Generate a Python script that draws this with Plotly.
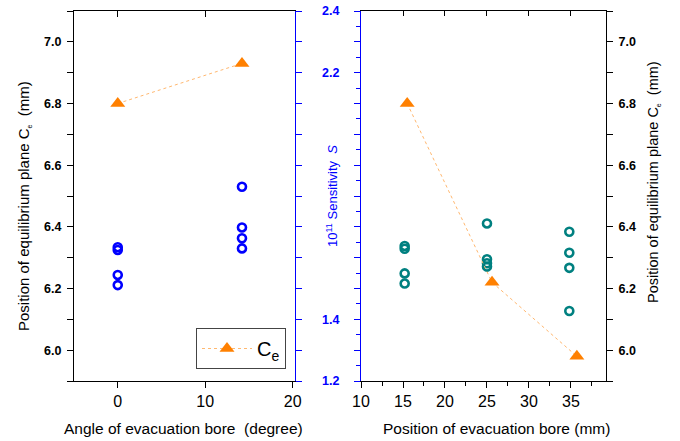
import plotly.graph_objects as go

# ---------------- data ----------------
angle_ce_x = [0, 14.2]
angle_ce_y = [6.80, 6.93]

angle_s_x = [0, 0, 0, 0, 14.2, 14.2, 14.2, 14.2]
angle_s_y = [1.634, 1.625, 1.544, 1.511, 1.830, 1.698, 1.663, 1.630]

pos_ce_x = [15.5, 25.6, 35.7]
pos_ce_y = [6.80, 6.22, 5.98]

pos_s_x = [15.2, 15.2, 15.2, 15.2, 25.0, 25.0, 25.0, 25.0, 34.8, 34.8, 34.8, 34.8]
pos_s_y = [1.638, 1.629, 1.549, 1.516, 1.711, 1.595, 1.582, 1.571, 1.684, 1.616, 1.567, 1.427]

ce_ticks = [6.0, 6.2, 6.4, 6.6, 6.8, 7.0]
ce_ticktext = ["6.0", "6.2", "6.4", "6.6", "6.8", "7.0"]
s_label_ticks = [1.2, 1.4, 2.2, 2.4]
s_label_text = ["1.2", "1.4", "2.2", "2.4"]
s_ticks = [1.2, 1.3, 1.4, 1.5, 1.6, 1.7, 1.8, 1.9, 2.0, 2.1, 2.2, 2.3, 2.4]
angle_ticks = [0, 10, 20]
pos_ticks = [10, 15, 20, 25, 30, 35]

FONT = "Arial, Liberation Sans, sans-serif"
ORANGE = "#FF8000"
DOTLINE = "#FFB870"
BLUE = "#0000FF"
TEAL = "#008080"

W, H = 680, 441


def px(x):
    return x / W


def py(y):
    return (H - y) / H


xl = [px(74), px(295)]
xr = [px(361), px(606)]
yd = [py(381), py(11)]

fig = go.Figure()

fig.add_trace(go.Scatter(
    x=angle_ce_x, y=angle_ce_y, xaxis="x", yaxis="y", mode="lines+markers",
    name="C<sub>e</sub>", showlegend=True,
    line=dict(color=DOTLINE, dash="dot", width=1),
    marker=dict(symbol="triangle-up", size=13, color=ORANGE)))

fig.add_trace(go.Scatter(
    x=angle_s_x, y=angle_s_y, xaxis="x", yaxis="y3", mode="markers", showlegend=False,
    marker=dict(symbol="circle-open", size=8, color=BLUE, line=dict(width=2.6, color=BLUE))))

fig.add_trace(go.Scatter(
    x=pos_s_x, y=pos_s_y, xaxis="x2", yaxis="y2", mode="markers", showlegend=False,
    marker=dict(symbol="circle-open", size=8, color=TEAL, line=dict(width=2.6, color=TEAL))))

fig.add_trace(go.Scatter(
    x=pos_ce_x, y=pos_ce_y, xaxis="x2", yaxis="y4", mode="lines+markers", showlegend=False,
    line=dict(color=DOTLINE, dash="dot", width=1),
    marker=dict(symbol="triangle-up", size=13, color=ORANGE)))

# empty helper traces so that the overlay (tick-only) axes get drawn
for xa, ya in [("x3", "y"), ("x4", "y2"), ("x2", "y5")]:
    fig.add_trace(go.Scatter(x=[], y=[], xaxis=xa, yaxis=ya, mode="markers",
                             showlegend=False, hoverinfo="skip"))

black_axis = dict(showline=True, linecolor="black", linewidth=1.2, tickcolor="black",
                  tickwidth=1.2, showgrid=False, zeroline=False, automargin=False)
blue_axis = dict(showline=True, linecolor=BLUE, linewidth=1.2, tickcolor=BLUE,
                 tickwidth=1.2, showgrid=False, zeroline=False, automargin=False)
ytickfont = dict(size=12.5, family=FONT, weight="bold")

fig.update_layout(
    width=W, height=H, margin=dict(l=0, r=0, t=0, b=0, pad=0, autoexpand=False),
    paper_bgcolor="white", plot_bgcolor="white",
    font=dict(family=FONT, color="black"),
    xaxis=dict(domain=xl, anchor="y", range=[-5, 20.26], tickmode="array", tickvals=angle_ticks,
               ticks="outside", ticklen=6, tickfont=dict(size=16), **black_axis),
    xaxis3=dict(overlaying="x", anchor="y", side="top", range=[-5, 20.26], tickmode="array",
                tickvals=[0, 10], ticks="inside", ticklen=6, showticklabels=False, **black_axis),
    yaxis=dict(domain=yd, anchor="x", range=[5.9, 7.1], tickmode="array", tickvals=ce_ticks,
               ticktext=ce_ticktext, ticks="outside", ticklen=6,
               minor=dict(dtick=0.1, tick0=5.9, ticks="outside", ticklen=6, tickcolor="black"),
               tickfont=ytickfont, ticklabelstandoff=3, **black_axis),
    yaxis3=dict(overlaying="y", anchor="x", side="right", range=[1.2, 2.4], tickmode="array",
                tickvals=s_ticks, ticks="outside", ticklen=6, showticklabels=False, **blue_axis),
    xaxis2=dict(domain=xr, anchor="y2", range=[10, 39.17], tickmode="array", tickvals=pos_ticks,
                ticks="outside", ticklen=6,
                minor=dict(dtick=2.5, tick0=10, ticks="outside", ticklen=4, tickcolor="black"),
                tickfont=dict(size=16), **black_axis),
    xaxis4=dict(overlaying="x2", anchor="y2", side="top", range=[10, 39.17], tickmode="array",
                tickvals=[15, 20, 25, 30, 35], ticks="inside", ticklen=5, showticklabels=False,
                **black_axis),
    yaxis2=dict(domain=yd, anchor="x2", side="left", range=[1.2, 2.4], tickmode="array",
                tickvals=s_label_ticks, ticktext=s_label_text, ticks="outside", ticklen=6,
                minor=dict(dtick=0.05, tick0=1.2, ticks="outside", ticklen=3.5, tickcolor=BLUE),
                tickfont=dict(size=12.5, color=BLUE, family=FONT, weight="bold"),
                ticklabelstandoff=12, ticklabeloverflow="allow", **blue_axis),
    yaxis5=dict(overlaying="y2", anchor="x2", side="left", range=[1.2, 2.4], tickmode="array",
                tickvals=s_ticks, ticks="outside", ticklen=6, showticklabels=False, **blue_axis),
    yaxis4=dict(overlaying="y2", anchor="x2", side="right", range=[5.9, 7.1], tickmode="array",
                tickvals=ce_ticks, ticktext=ce_ticktext, ticks="outside", ticklen=6,
                minor=dict(dtick=0.1, tick0=5.9, ticks="outside", ticklen=6, tickcolor="black"),
                tickfont=ytickfont, ticklabelstandoff=3, **black_axis),
    legend=dict(x=px(286), y=py(369), xanchor="right", yanchor="bottom",
                bordercolor="#444", borderwidth=1, bgcolor="white",
                font=dict(size=20, family=FONT), itemwidth=50,
                tracegroupgap=0),
)

ann = [
    dict(text="Position of equilibrium plane C<sub><span style='font-size:7px'>e</span></sub>  (mm)",
         x=px(24), y=py(206), textangle=-90, font=dict(size=15)),
    dict(text="Position of equilibrium plane C<sub><span style='font-size:7px'>e</span></sub>  (mm)",
         x=px(653), y=py(182), textangle=-90, font=dict(size=14.5)),
    dict(text="Angle of evacuation bore  (degree)", x=px(183), y=py(428), font=dict(size=15.5)),
    dict(text="Position of evacuation bore (mm)", x=px(496.5), y=py(428), font=dict(size=15.5)),
    dict(text="10<sup>11</sup> Sensitivity  <i>S</i>", x=px(332), y=py(196), textangle=-90,
         font=dict(size=13, color=BLUE)),
]
for a in ann:
    a.update(xref="paper", yref="paper", showarrow=False, xanchor="center", yanchor="middle")
    fig.add_annotation(**a)

# remove the browser's default page margin so the figure fills the window exactly
fig.write_html("out.html", config={"displayModeBar": False},
               post_script="document.body.style.margin='0';")
